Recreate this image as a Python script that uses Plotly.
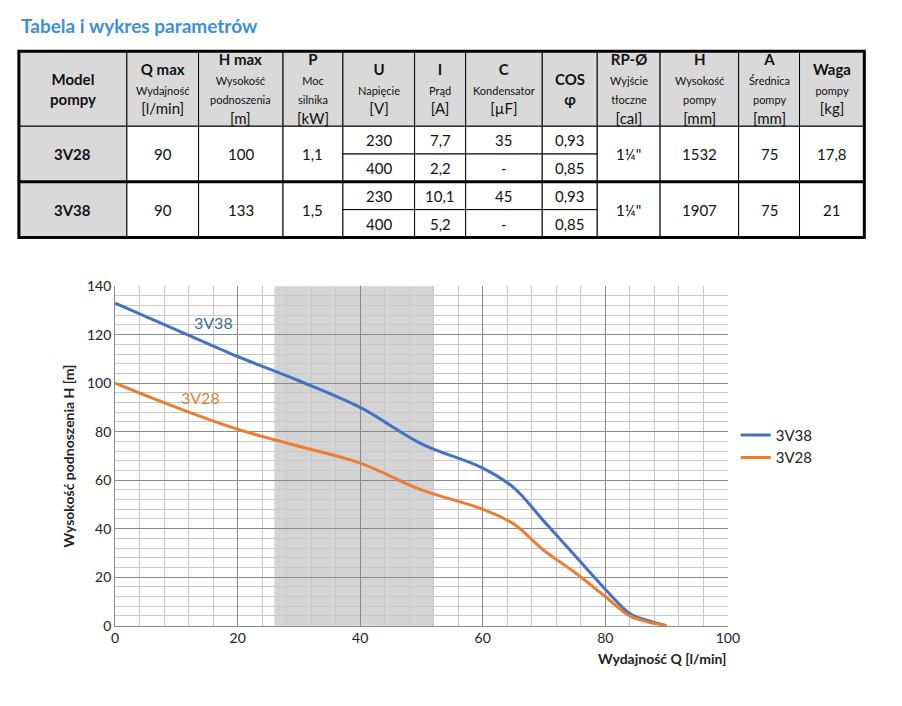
import plotly.graph_objects as go

W, H = 886, 690  # okno 902x706 minus marginesy strony (8px)

# dane krzywych
q_38 = [0, 10, 20, 30, 40, 50, 60, 65, 70, 75, 80, 84, 87, 90]
h_38 = [133, 122, 111, 101, 90, 75, 65, 57, 43, 29, 15, 5, 2, 0]
q_28 = [0, 10, 20, 30, 40, 50, 60, 65, 70, 75, 80, 84, 87, 90]
h_28 = [100, 90, 81, 74, 67, 56, 48, 42, 31, 22, 12, 4, 1.5, 0]
shade_q = [26, 52]

# tabela
headers = [("Model<br>pompy", ""), ("Q max", "Wydajność<br><span style='font-size:15px'>[l/min]</span>"),
           ("H max", "Wysokość<br>podnoszenia<br><span style='font-size:15px'>[m]</span>"),
           ("P", "Moc<br>silnika<br><span style='font-size:15px'>[kW]</span>"),
           ("U", "Napięcie<br><span style='font-size:15px'>[V]</span>"),
           ("I", "Prąd<br><span style='font-size:15px'>[A]</span>"),
           ("C", "Kondensator<br><span style='font-size:15px'>[µF]</span>"),
           ("COS<br>φ", ""),
           ("RP-Ø", "Wyjście<br>tłoczne<br><span style='font-size:15px'>[cal]</span>"),
           ("H", "Wysokość<br>pompy<br><span style='font-size:15px'>[mm]</span>"),
           ("A", "Średnica<br>pompy<br><span style='font-size:15px'>[mm]</span>"),
           ("Waga", "pompy<br><span style='font-size:15px'>[kg]</span>")]
models = ["3V28", "3V38"]
q_max = ["90", "90"]
h_max = ["100", "133"]
power = ["1,1", "1,5"]
voltage = [["230", "400"], ["230", "400"]]
current = [["7,7", "2,2"], ["10,1", "5,2"]]
capacitor = [["35", "-"], ["45", "-"]]
cos_phi = [["0,93", "0,85"], ["0,93", "0,85"]]
outlet = ["1¼\"", "1¼\""]
height_mm = ["1532", "1907"]
diameter = ["75", "75"]
weight = ["17,8", "21"]

cols = [15, 125, 198, 284, 345, 418, 470, 548, 604, 668, 748, 810, 876]
row_y = [43, 120, 177, 234]

def px(x):
    return (x - 8) / W

def py(y):
    return 1 - (y - 8) / H

shapes, ann = [], []

def cell(x0, x1, y0, y1, text, fill="white", size=15, bold=False):
    shapes.append(dict(type="rect", xref="paper", yref="paper", x0=px(x0), x1=px(x1),
                       y0=py(y1), y1=py(y0), fillcolor=fill, line=dict(color="black", width=1), layer="below"))
    t = f"<b>{text}</b>" if bold else text
    ann.append(dict(xref="paper", yref="paper", x=px((x0 + x1) / 2), y=py((y0 + y1) / 2), text=t,
                    showarrow=False, font=dict(size=size, color="#111"), xanchor="center", yanchor="middle"))

gray = "#d9d9d9"
for i, (top, sub) in enumerate(headers):
    txt = f"<b>{top}</b>" + (f"<br><span style='font-size:11px'>{sub}</span>" if sub else "")
    cell(cols[i], cols[i + 1], row_y[0], row_y[1], txt, fill=gray, size=15)

merged = [models, q_max, h_max, power, None, None, None, None, outlet, height_mm, diameter, weight]
split = {4: voltage, 5: current, 6: capacitor, 7: cos_phi}
for r in range(2):
    y0, y1 = row_y[r + 1], row_y[r + 2]
    ym = (y0 + y1) / 2
    for c in range(12):
        if c in split:
            cell(cols[c], cols[c + 1], y0, ym, split[c][r][0])
            cell(cols[c], cols[c + 1], ym, y1, split[c][r][1])
        else:
            cell(cols[c], cols[c + 1], y0, y1, merged[c][r], fill=gray if c == 0 else "white", bold=(c == 0))

# grube ramki
shapes.append(dict(type="rect", xref="paper", yref="paper", x0=px(15), x1=px(876), y0=py(234), y1=py(43),
                   line=dict(color="black", width=3)))
shapes.append(dict(type="line", xref="paper", yref="paper", x0=px(15), x1=px(876), y0=py(177), y1=py(177),
                   line=dict(color="black", width=3)))

# zacienienie obszaru wykresu
shapes.append(dict(type="rect", xref="x", yref="paper", x0=shade_q[0], x1=shade_q[1],
                   y0=py(632), y1=py(284), fillcolor="#d4d4d4", line_width=0, layer="below"))

ann += [
    dict(xref="paper", yref="paper", x=px(15), y=py(17), text="<b>Tabela i wykres parametrów</b>",
         showarrow=False, xanchor="left", yanchor="middle", font=dict(size=19, color="#3d8fd8")),
    dict(xref="paper", yref="paper", x=px(55), y=py(458), text="<b>Wysokość podnoszenia H [m]</b>",
         textangle=-90, showarrow=False, font=dict(size=14, color="#222")),
    dict(xref="paper", yref="paper", x=px(737), y=py(676), text="<b>Wydajność Q [l/min]</b>",
         showarrow=False, xanchor="right", font=dict(size=14, color="#222")),
    dict(x=16, y=125, text="3V38", showarrow=False, xanchor="center", font=dict(size=16, color="#3a6fa0")),
    dict(x=14, y=94, text="3V28", showarrow=False, xanchor="center", font=dict(size=16, color="#e2803a")),
]

fig = go.Figure()
fig.add_trace(go.Scatter(x=q_38, y=h_38, name="3V38", mode="lines", line=dict(color="#4472c4", width=3, shape="spline")))
fig.add_trace(go.Scatter(x=q_28, y=h_28, name="3V28", mode="lines", line=dict(color="#ed7d31", width=3, shape="spline")))

grid = dict(showgrid=True, gridcolor="#8a8a8a", gridwidth=1, linecolor="#8a8a8a", showline=True,
            minor=dict(dtick=4, showgrid=True, gridcolor="#c8c8c8", gridwidth=1), zeroline=False,
            tickfont=dict(size=14, color="#222"), ticks="")
fig.update_layout(
    width=W, height=H, margin=dict(l=0, r=0, t=0, b=0),
    paper_bgcolor="white", plot_bgcolor="rgba(0,0,0,0)",
    font=dict(family="Lato, Noto Sans, sans-serif"),
    xaxis=dict(domain=[px(113), px(737)], range=[0, 100], dtick=20, **grid),
    yaxis=dict(domain=[py(632), py(284)], range=[0, 140], dtick=20, **grid),
    legend=dict(x=px(745), y=py(420), xanchor="left", yanchor="top", font=dict(size=15, color="#222"),
                bgcolor="rgba(0,0,0,0)"),
    shapes=shapes, annotations=ann,
)
fig.write_html("out.html")
